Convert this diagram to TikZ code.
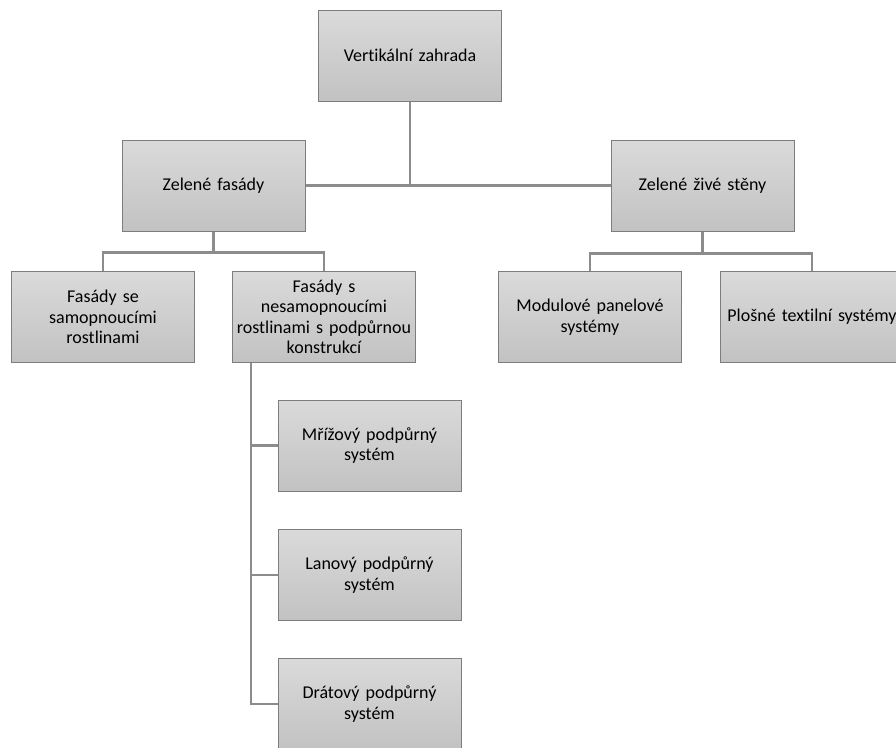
\documentclass[tikz,border=0pt]{standalone}
\usepackage{fontspec}
\setmainfont{Carlito}[Ligatures={NoCommon}]
\definecolor{boxtop}{RGB}{218,218,218}
\definecolor{boxbot}{RGB}{194,194,194}
\definecolor{boxline}{RGB}{125,125,125}
\definecolor{linkgray}{RGB}{140,140,140}

\begin{document}
\begin{tikzpicture}[x=1pt, y=-1pt,
    box/.style={draw=boxline, line width=1pt, top color=boxtop, bottom color=boxbot,
        minimum width=183pt, minimum height=91pt, text width=178pt, inner sep=0pt,
        align=center, font=\fontsize{18}{20.5}\selectfont},
    link/.style={draw=linkgray, line width=2.6pt}
]
\useasboundingbox (0,0) rectangle (896,747);

% Nodes
\node[box] (root) at (410, 55.5) {Vertikální zahrada};
\node[box] (zf) at (213.5, 185.5) {Zelené fasády};
\node[box] (zzs) at (702.5, 185.5) {Zelené živé stěny};

\node[box] (fse) at (103, 317) {Fasády se\\ samopnoucími\\ rostlinami};
\node[box] (fss) at (324, 317) {Fasády s\\ nesamopnoucími\\ rostlinami s podpůrnou\\ konstrukcí};
\node[box] (mod) at (590, 317) {Modulové panelové\\ systémy};
\node[box] (plo) at (812, 317) {Plošné textilní systémy};

\node[box] (mriz) at (369.5, 445.5) {Mřížový podpůrný\\ systém};
\node[box] (lan) at (369.5, 575) {Lanový podpůrný\\ systém};
\node[box] (drat) at (369.5, 704) {Drátový podpůrný\\ systém};

% Connections
\draw[link] (root.south) -- (root.south |- zf.east);
\draw[link] (zf.east) -- (zzs.west);

\draw[link] (zf.south) -- ++(0, 21) coordinate (zfj);
\draw[link] (fse.north) |- (zfj) -| (fss.north);

\draw[link] (zzs.south) -- ++(0, 22) coordinate (zzsj);
\draw[link] (mod.north) |- (zzsj) -| (plo.north);

\draw[link] ([xshift=19pt]fss.south west) |- (drat.west);
\draw[link] ([xshift=19pt]fss.south west) |- (mriz.west);
\draw[link] ([xshift=19pt]fss.south west) |- (lan.west);
\end{tikzpicture}
\end{document}
